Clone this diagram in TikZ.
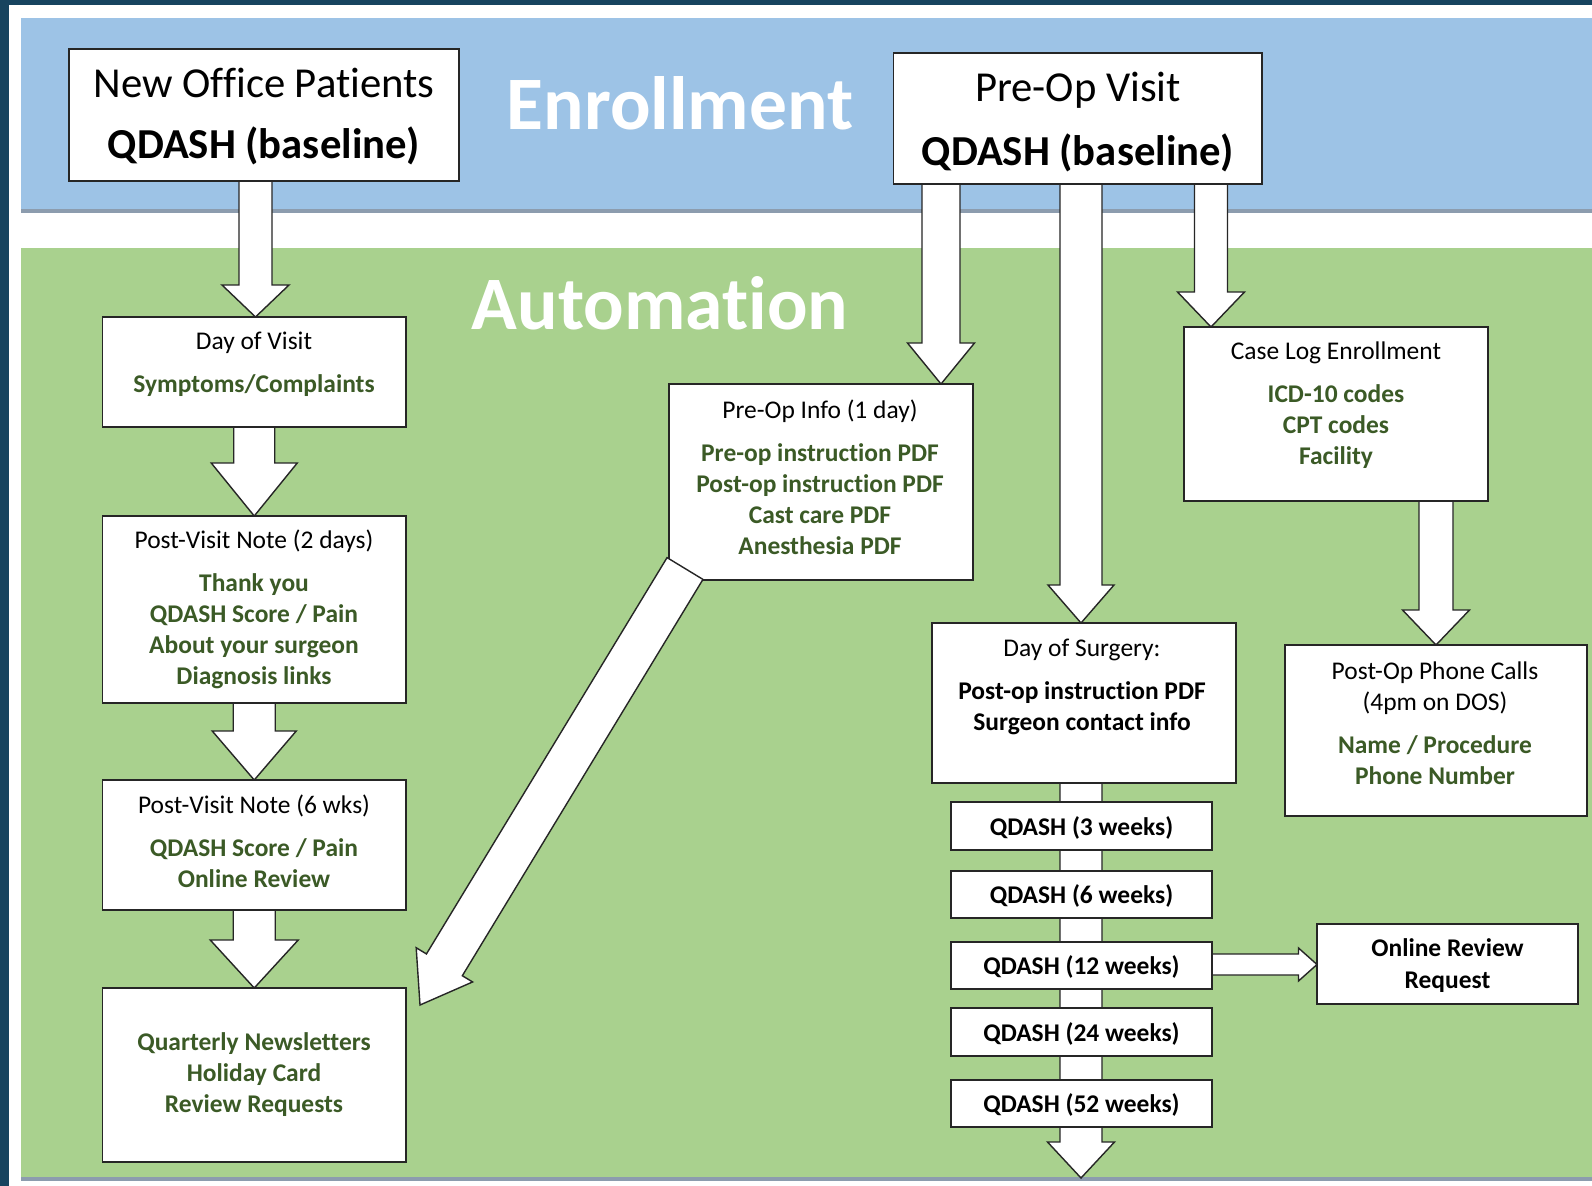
\documentclass[tikz,border=0pt]{standalone}
\usepackage{fontspec}
\setmainfont{Carlito}[Ligatures=NoCommon]
\usetikzlibrary{calc}
\definecolor{navy}{HTML}{17445F}
\definecolor{blueband}{HTML}{9DC3E6}
\definecolor{greenband}{HTML}{A9D18E}
\definecolor{bandshadow}{HTML}{8C9CAE}
\definecolor{dgreen}{HTML}{3B5A26}
\pgfdeclarelayer{bg}
\pgfdeclarelayer{arr}
\pgfsetlayers{bg,arr,main}
\newcommand\grn[1]{\textcolor{dgreen}{\textbf{#1}}}
\newcommand\boxnode[5]{\node[box, anchor=north west, minimum width={(#4-#2)*0.02cm}, minimum height={(#5-#3)*0.02cm}] (#1) at (#2,#3) {};}
% #1 start, #2 tip, #3 shaft half width, #4 head half width, #5 head length (px)
\newcommand\barrow[5]{%
  \coordinate (bahb) at ($(#2)!#5*0.02cm!(#1)$);
  \filldraw[arrowline] ($(#1)!#3*0.02cm!90:(#2)$) -- ($(bahb)!#3*0.02cm!90:(#2)$) -- ($(bahb)!#4*0.02cm!90:(#2)$) -- (#2) -- ($(bahb)!#4*0.02cm!-90:(#2)$) -- ($(bahb)!#3*0.02cm!-90:(#2)$) -- ($(#1)!#3*0.02cm!-90:(#2)$) -- cycle;}
\tikzset{
  box/.style={draw=black!85, fill=white, line width=0.9pt, inner sep=0pt, outer sep=0pt},
  arrowline/.style={draw=black!85, fill=white, line width=0.8pt, line join=miter},
  sm/.style={font=\fontsize{14.5}{17.6}\selectfont, align=center, inner sep=0pt},
  big/.style={font=\fontsize{24.3}{34.6}\selectfont, align=center, inner sep=0pt},
  band/.style={font=\fontsize{43}{50}\selectfont\bfseries, text=white, anchor=base, inner sep=0pt}
}
\begin{document}
\begin{tikzpicture}[x=0.02cm, y=-0.02cm]
\useasboundingbox (0,0) rectangle (1592,1186);
\begin{pgfonlayer}{bg}
  \fill[navy] (0,0) rectangle (1592,1186);
  \fill[white] (9,5) rectangle (1592,1186);
  \fill[bandshadow] (21,209) rectangle (1592,213);
  \fill[blueband] (21,18) rectangle (1592,209);
  \fill[bandshadow] (21,1176) rectangle (1592,1181);
  \fill[greenband] (21,248) rectangle (1592,1177);
\end{pgfonlayer}

% titles
\node[band] (enr) at (680,130) {Enrollment};
\node[band] (aut) at (660,329) {Automation};

% boxes
\boxnode{nop}{69}{49}{459}{181}
\boxnode{pov}{893.5}{53}{1262}{184}
\boxnode{dov}{102.5}{317}{406}{427}
\boxnode{pv2}{102.5}{516}{406}{703}
\boxnode{pv6}{102.5}{780}{406}{910}
\boxnode{qn}{102.5}{988}{406}{1162}
\boxnode{poi}{669}{384}{973}{580}
\boxnode{cle}{1184}{327}{1488}{501}
\boxnode{dos}{932}{623}{1236}{783}
\boxnode{pc}{1285}{645}{1587}{816}
\boxnode{q3}{951}{802}{1212}{850}
\boxnode{q6}{951}{871}{1212}{918}
\boxnode{q12}{951}{942}{1212}{989}
\boxnode{q24}{951}{1008}{1212}{1056}
\boxnode{q52}{951}{1080}{1212}{1127}
\boxnode{orr}{1317}{924}{1578}{1004}

% texts
\node[big] (nop-t) at (264,116.5) {New Office Patients\\\textbf{QDASH (baseline)}};
\node[big, font=\fontsize{24.3}{36.3}\selectfont] (pov-t) at (1078,122) {Pre-Op Visit\\\textbf{QDASH (baseline)}};
\node[sm] (dov-t) at (254,364.5) {Day of Visit\\[7pt]\grn{Symptoms/Complaints}};
\node[sm] (pv2-t) at (254,609) {Post-Visit Note (2 days)\\[7pt]\grn{Thank you}\\\grn{QDASH Score / Pain}\\\grn{About your surgeon}\\\grn{Diagnosis links}};
\node[sm] (pv6-t) at (254,841.5) {Post-Visit Note (6 wks)\\[7pt]\grn{QDASH Score / Pain}\\\grn{Online Review}};
\node[sm] (qn-t) at (254,1074.5) {\grn{Quarterly Newsletters}\\\grn{Holiday Card}\\\grn{Review Requests}};
\node[sm] (poi-t) at (820,477) {Pre-Op Info (1 day)\\[7pt]\grn{Pre-op instruction PDF}\\\grn{Post-op instruction PDF}\\\grn{Cast care PDF}\\\grn{Anesthesia PDF}};
\node[sm] (cle-t) at (1336,405) {Case Log Enrollment\\[7pt]\grn{ICD-10 codes}\\\grn{CPT codes}\\\grn{Facility}};
\node[sm] (dos-t) at (1082,686.5) {Day of Surgery:\\[7pt]\textbf{Post-op instruction PDF}\\\textbf{Surgeon contact info}};
\node[sm] (pc-t) at (1435,723) {Post-Op Phone Calls\\(4pm on DOS)\\[7pt]\grn{Name / Procedure}\\\grn{Phone Number}};
\node[sm, font=\fontsize{14.5}{17.6}\selectfont\bfseries] (q3-t) at ($(q3)+(0,1.5)$) {QDASH (3 weeks)};
\node[sm, font=\fontsize{14.5}{17.6}\selectfont\bfseries] (q6-t) at ($(q6)+(0,1.5)$) {QDASH (6 weeks)};
\node[sm, font=\fontsize{14.5}{17.6}\selectfont\bfseries] (q12-t) at ($(q12)+(0,1.5)$) {QDASH (12 weeks)};
\node[sm, font=\fontsize{14.5}{17.6}\selectfont\bfseries] (q24-t) at ($(q24)+(0,1.5)$) {QDASH (24 weeks)};
\node[sm, font=\fontsize{14.5}{17.6}\selectfont\bfseries] (q52-t) at ($(q52)+(0,1.5)$) {QDASH (52 weeks)};
\node[sm, font=\fontsize{14.5}{18.2}\selectfont\bfseries] (orr-t) at ($(orr)+(0,1.5)$) {Online Review\\Request};

% arrow anchor coordinates
\coordinate (a1s) at ($(nop.south)+(-8.5,0)$);
\coordinate (a1t) at (a1s |- dov.north);
\coordinate (a2t) at (dov.south |- pv2.north);
\coordinate (a3t) at (pv2.south |- pv6.north);
\coordinate (a4t) at (pv6.south |- qn.north);
\coordinate (a5s) at ($(pov.south)+(-136.75,0)$);
\coordinate (a5t) at (a5s |- poi.north);
\coordinate (a6s) at ($(pov.south)+(3.25,0)$);
\coordinate (a6t) at (a6s |- dos.north);
\coordinate (a7s) at ($(pov.south)+(133.25,0)$);
\coordinate (a7t) at (a7s |- cle.north);
\coordinate (a8s) at ($(cle.south)+(100,0)$);
\coordinate (a8t) at (a8s |- pc.north);
\coordinate (a9s) at ($(dos.south)+(-3,0)$);
\coordinate (a9t) at ($(dos.south)+(-3,395)$);
\coordinate (a10s) at ($(q12.east)+(0,-1)$);
\coordinate (a10t) at (a10s -| orr.west);
\coordinate (a11s) at ($(poi.south west)+(16,-11.5)$);
\coordinate (a11t) at ($(qn.north east)+(14,17)$);

\begin{pgfonlayer}{arr}
  \barrow{a1s}{a1t}{16.5}{33.5}{32}
  \barrow{dov.south}{a2t}{20.5}{43}{53}
  \barrow{pv2.south}{a3t}{21}{42}{49}
  \barrow{pv6.south}{a4t}{21}{44}{48}
  \barrow{a5s}{a5t}{19}{33.5}{41}
  \barrow{a6s}{a6t}{21}{33}{38}
  \barrow{a7s}{a7t}{16.5}{33.5}{35}
  \barrow{a8s}{a8t}{17}{33.5}{35}
  \barrow{a9s}{a9t}{21}{33.5}{36}
  \barrow{a10s}{a10t}{10.5}{16.5}{18.5}
\end{pgfonlayer}
\barrow{a11s}{a11t}{21}{33}{47}
\end{tikzpicture}
\end{document}
